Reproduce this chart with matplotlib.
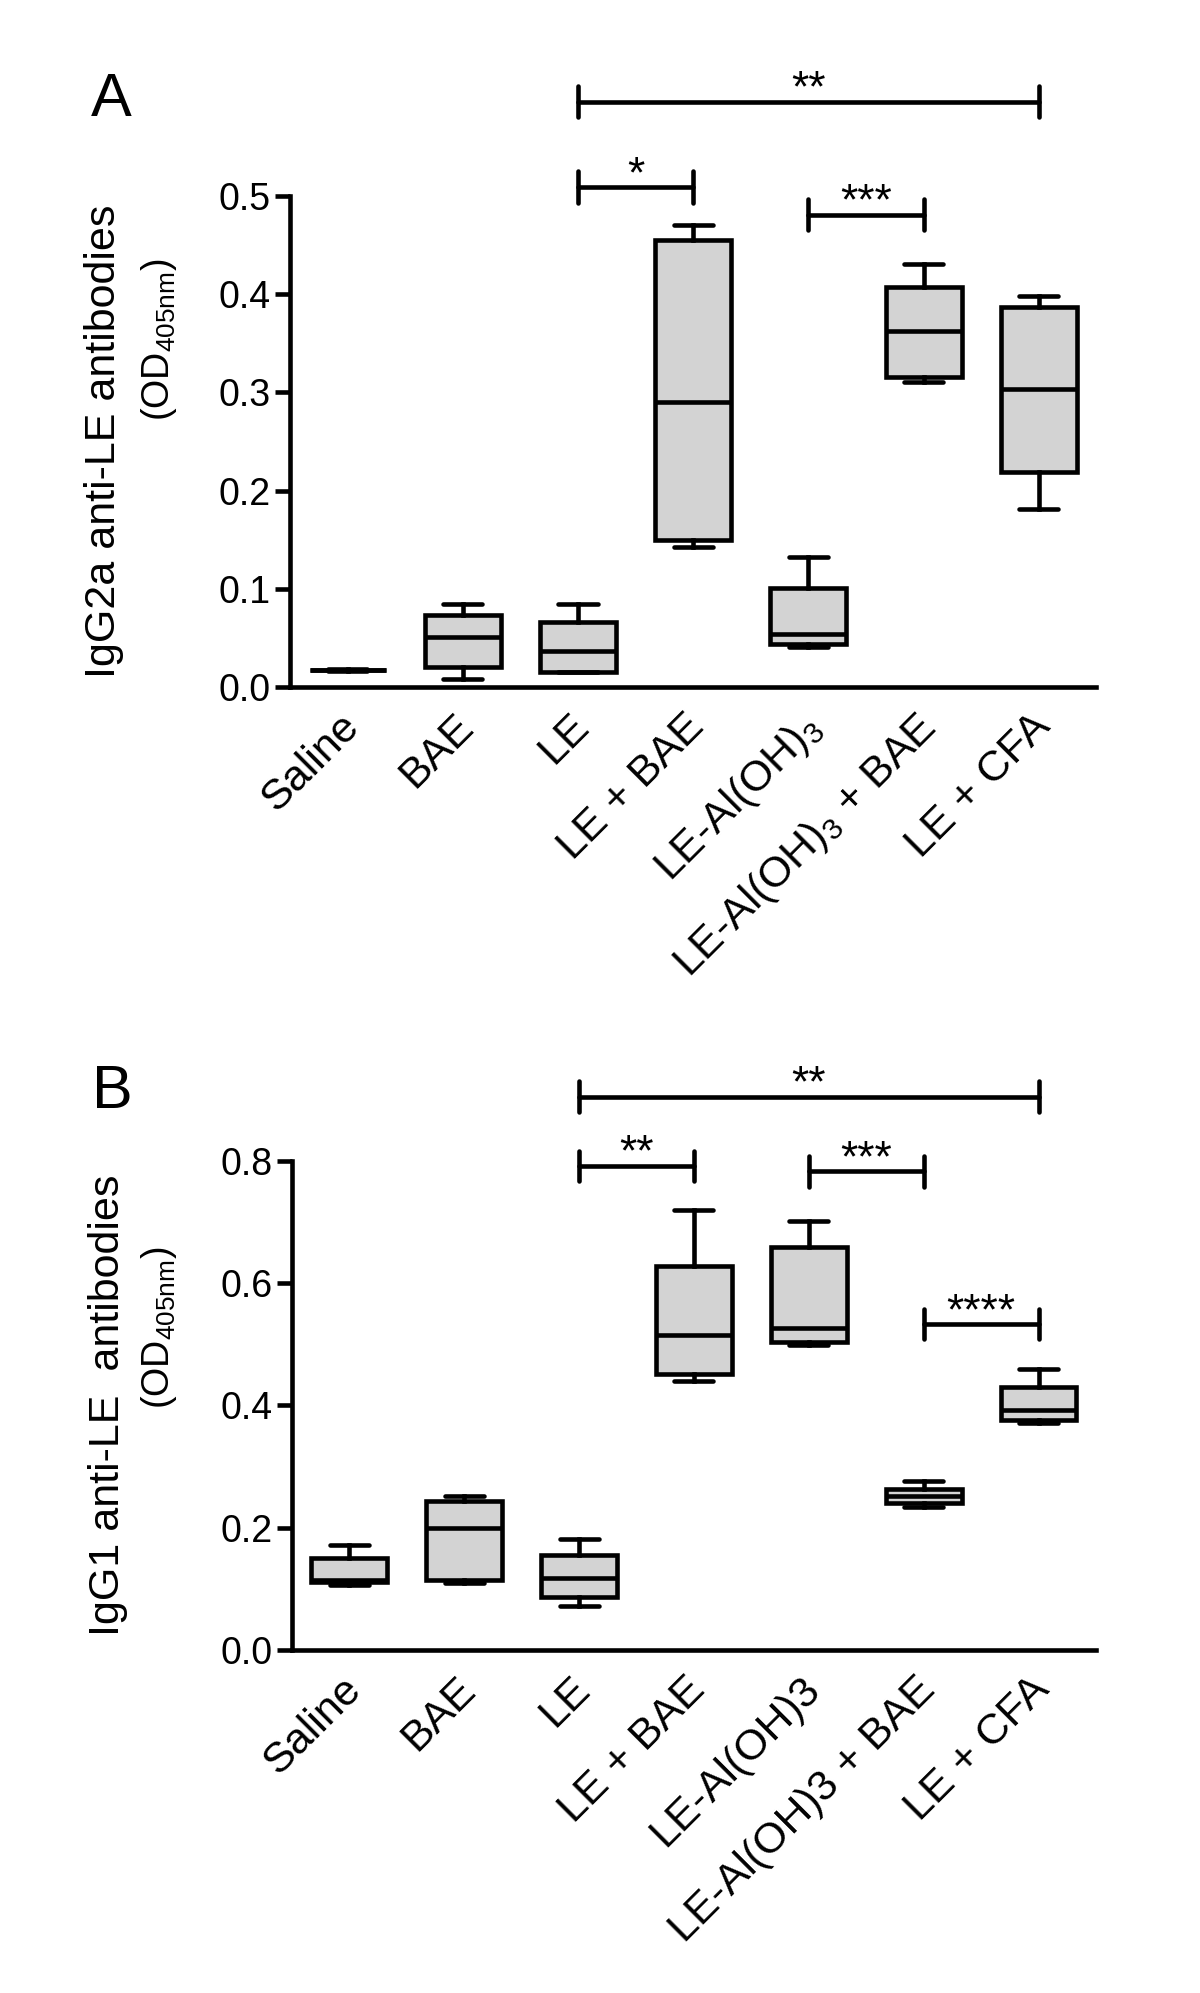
import matplotlib
matplotlib.use("Agg")
from matplotlib import pyplot as plt

plt.rcParams['font.family'] = ['Liberation Sans', 'DejaVu Sans']
plt.rcParams['mathtext.default'] = 'regular'

# group names
groups_a = ['Saline', 'BAE', 'LE', 'LE + BAE', 'LE-Al(OH)$_3$',
            'LE-Al(OH)$_3$ + BAE', 'LE + CFA']
groups_b = ['Saline', 'BAE', 'LE', 'LE + BAE', 'LE-Al(OH)3',
            'LE-Al(OH)3 + BAE', 'LE + CFA']

# panel A: IgG2a (whisker low, q1, median, q3, whisker high)
a_lo = [0.016, 0.008, 0.015, 0.143, 0.041, 0.311, 0.181]
a_q1 = [0.017, 0.020, 0.015, 0.150, 0.044, 0.316, 0.219]
a_med = [0.017, 0.051, 0.037, 0.290, 0.054, 0.362, 0.303]
a_q3 = [0.017, 0.073, 0.066, 0.455, 0.101, 0.407, 0.387]
a_hi = [0.018, 0.085, 0.085, 0.470, 0.132, 0.431, 0.398]

# panel B: IgG1
b_lo = [0.107, 0.109, 0.072, 0.440, 0.499, 0.234, 0.371]
b_q1 = [0.112, 0.114, 0.086, 0.452, 0.504, 0.241, 0.377]
b_med = [0.114, 0.200, 0.118, 0.515, 0.527, 0.252, 0.393]
b_q3 = [0.150, 0.243, 0.155, 0.628, 0.659, 0.263, 0.431]
b_hi = [0.171, 0.252, 0.182, 0.720, 0.702, 0.276, 0.459]

# significance brackets: (x1, x2, y, label)
sig_a = [(2, 6, 0.596, '**'), (2, 3, 0.509, '*'), (4, 5, 0.481, '***')]
sig_b = [(2, 6, 0.905, '**'), (2, 3, 0.792, '**'), (4, 5, 0.783, '***'),
         (5, 6, 0.533, '****')]

LW = 3.3
BOXC = '#d3d3d3'


def draw_panel(ax, names, lo, q1, med, q3, hi, ymax, ystep, sigs, cap):
    stats = []
    for i in range(len(names)):
        stats.append(dict(whislo=lo[i], q1=q1[i], med=med[i], q3=q3[i],
                          whishi=hi[i], fliers=[]))
    ax.bxp(stats, positions=range(len(names)), widths=0.66,
           capwidths=0.34, patch_artist=True, showfliers=False,
           boxprops=dict(facecolor=BOXC, edgecolor='black', linewidth=LW),
           medianprops=dict(color='black', linewidth=LW),
           whiskerprops=dict(color='black', linewidth=LW),
           capprops=dict(color='black', linewidth=LW, solid_capstyle='round'))
    ax.set_xlim(-0.5, len(names) - 0.5)
    ax.set_ylim(0, ymax)
    ax.set_yticks([ystep * k for k in range(int(round(ymax / ystep)) + 1)])
    ax.yaxis.set_major_formatter(matplotlib.ticker.FormatStrFormatter('%.1f'))
    # x ticks are invisible, so nudge them a little left for the rotated labels
    ax.set_xticks([i - 0.08 for i in range(len(names))])
    ax.set_xticklabels(names, rotation=45, ha='right', rotation_mode='anchor')
    ax.spines['top'].set_visible(False)
    ax.spines['right'].set_visible(False)
    ax.spines['left'].set_linewidth(LW)
    ax.spines['bottom'].set_linewidth(LW)
    ax.tick_params(axis='y', length=11, width=LW, labelsize=27, pad=3)
    ax.tick_params(axis='x', length=0, labelsize=31, pad=14)
    for x1, x2, y, lab in sigs:
        ax.plot([x1, x2], [y, y], color='black', lw=LW, clip_on=False,
                solid_capstyle='round')
        for x in (x1, x2):
            ax.plot([x, x], [y - cap, y + cap], color='black', lw=LW,
                    clip_on=False, solid_capstyle='round')
        ax.annotate(lab, xy=((x1 + x2) / 2, y), xytext=(0, 0),
                    textcoords='offset points', ha='center',
                    va='baseline', fontsize=32, annotation_clip=False)


fig = plt.figure(figsize=(12, 19.93), dpi=100)
ax_a = fig.add_axes([0.2417, 0.6553, 0.672, 0.2464])
ax_b = fig.add_axes([0.2433, 0.1721, 0.670, 0.2454])

draw_panel(ax_a, groups_a, a_lo, a_q1, a_med, a_q3, a_hi, 0.5, 0.1, sig_a, 0.016)
draw_panel(ax_b, groups_b, b_lo, b_q1, b_med, b_q3, b_hi, 0.8, 0.2, sig_b, 0.025)

fig.text(0.0925, 0.9498, 'A', fontsize=44, ha='center', va='center')
fig.text(0.0933, 0.4516, 'B', fontsize=44, ha='center', va='center')

fig.text(0.0867, 0.7787, 'IgG2a anti-LE antibodies', rotation=90,
         fontsize=31, ha='center', va='center')
fig.text(0.1325, 0.8294, '(OD$_{405nm}$)', rotation=90,
         fontsize=27, ha='center', va='center')
fig.text(0.09, 0.295, 'IgG1 anti-LE  antibodies', rotation=90,
         fontsize=31, ha='center', va='center')
fig.text(0.1325, 0.3337, '(OD$_{405nm}$)', rotation=90,
         fontsize=27, ha='center', va='center')

fig.savefig('out.png', dpi=100)
